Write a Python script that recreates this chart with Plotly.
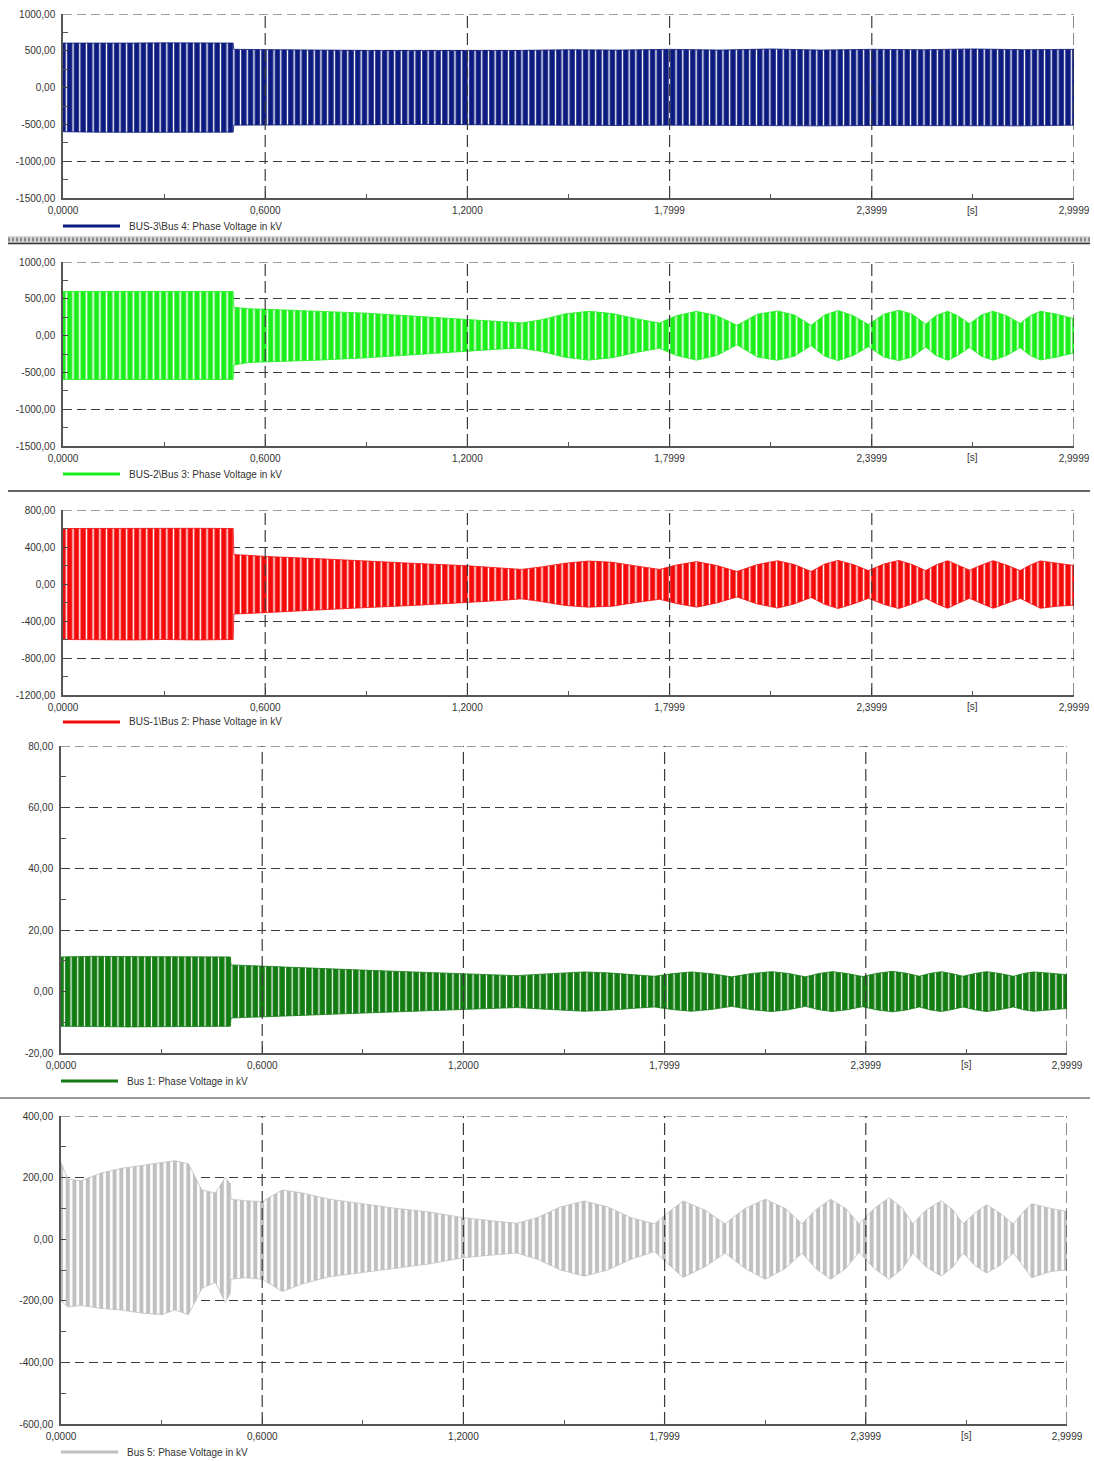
import plotly.graph_objects as go

W, H = 1094, 1461

# ---------------- data (envelopes) ----------------
x_tick_vals = [0.0, 0.6, 1.2, 1.7999, 2.3999, 2.9999]
x_tick_text = ["0,0000", "0,6000", "1,2000", "1,7999", "2,3999", "2,9999"]
x_minor_vals = [0.3, 0.9, 1.5, 2.1, 2.7]

# Panel 1: BUS-3\Bus 4
t_bus4 = [0, 0.1, 0.2, 0.3, 0.4, 0.505, 0.507, 0.6, 0.75, 0.9, 1.05, 1.2, 1.35,
          1.5, 1.65, 1.8, 1.95, 2.1, 2.25, 2.4, 2.55, 2.7, 2.85, 2.9999]
up_bus4 = [605, 610, 605, 608, 605, 605, 520, 515, 510, 505, 505, 500, 505,
           515, 510, 520, 510, 525, 510, 520, 515, 525, 515, 520]
lo_bus4 = [-600, -605, -608, -605, -608, -605, -510, -515, -505, -505, -500, -505, -505,
           -510, -515, -510, -520, -515, -520, -515, -520, -515, -520, -510]

# shared time base for the post-fault beating buses
t_beat = [0, 0.1, 0.2, 0.3, 0.4, 0.505, 0.507, 0.55, 0.6, 0.75, 0.9, 1.05, 1.2, 1.3,
          1.36, 1.42, 1.49, 1.56, 1.63, 1.70, 1.77, 1.82, 1.88, 1.94, 2.00, 2.06,
          2.12, 2.17, 2.22, 2.26, 2.30, 2.345, 2.39, 2.435, 2.48, 2.52, 2.56, 2.59,
          2.625, 2.655, 2.69, 2.725, 2.76, 2.80, 2.84, 2.87, 2.90, 2.95, 2.9999]

# Panel 2: BUS-2\Bus 3
up_bus3 = [600, 600, 600, 602, 600, 600, 385, 365, 358, 335, 305, 262, 218, 185,
           172, 215, 295, 330, 300, 230, 170, 270, 330, 270, 140, 290,
           335, 280, 140, 280, 340, 270, 150, 290, 345, 290, 155, 270,
           330, 270, 160, 280, 330, 270, 165, 270, 330, 290, 230]
lo_bus3 = [-595, -598, -600, -598, -598, -595, -400, -365, -360, -335, -302, -258, -212, -182,
           -171, -215, -295, -333, -300, -230, -172, -270, -333, -270, -125, -290,
           -335, -280, -135, -280, -340, -270, -150, -290, -340, -290, -155, -270,
           -335, -270, -160, -280, -335, -270, -165, -270, -330, -290, -235]

# Panel 3: BUS-1\Bus 2
up_bus2 = [600, 602, 600, 600, 602, 600, 318, 310, 298, 275, 252, 222, 197, 172,
           158, 185, 225, 248, 235, 195, 158, 205, 242, 200, 135, 210,
           252, 210, 135, 215, 255, 210, 145, 215, 255, 210, 145, 205,
           252, 205, 150, 205, 252, 205, 145, 205, 250, 225, 200]
lo_bus2 = [-600, -605, -605, -600, -605, -600, -325, -318, -310, -285, -255, -230, -202, -178,
           -160, -190, -232, -250, -240, -200, -165, -210, -250, -205, -140, -215,
           -260, -215, -145, -220, -265, -215, -155, -220, -265, -215, -155, -210,
           -262, -210, -155, -210, -262, -210, -155, -210, -262, -240, -230]

# Panel 4: Bus 1
up_bus1 = [11.3, 11.5, 11.4, 11.4, 11.5, 11.3, 8.7, 8.5, 8.2, 7.6, 7.0, 6.4, 5.8, 5.4,
           5.2, 5.6, 6.1, 6.4, 6.1, 5.5, 5.0, 5.8, 6.4, 5.8, 4.8, 5.9,
           6.5, 5.9, 4.8, 5.9, 6.5, 5.9, 4.9, 6.0, 6.6, 6.0, 5.0, 5.9,
           6.5, 5.9, 5.0, 5.9, 6.5, 5.9, 5.0, 5.9, 6.4, 6.0, 5.5]
lo_bus1 = [-11.3, -11.4, -11.5, -11.4, -11.4, -11.3, -8.6, -8.5, -8.2, -7.6, -7.0, -6.4, -5.8, -5.4,
           -5.2, -5.6, -6.1, -6.4, -6.1, -5.5, -5.0, -5.8, -6.4, -5.8, -4.8, -5.9,
           -6.5, -5.9, -4.8, -5.9, -6.5, -5.9, -4.9, -6.0, -6.6, -6.0, -5.0, -5.9,
           -6.5, -5.9, -5.0, -5.9, -6.5, -5.9, -5.0, -5.9, -6.4, -6.0, -5.5]

# Panel 5: Bus 5 (irregular before the switching instant)
t_bus5 = [0, 0.02, 0.06, 0.12, 0.18, 0.24, 0.30, 0.34, 0.38, 0.42, 0.46, 0.49, 0.505,
          0.507, 0.55, 0.6, 0.66, 0.72, 0.8, 0.9, 1.0, 1.1, 1.2, 1.3,
          1.36, 1.42, 1.49, 1.56, 1.63, 1.70, 1.77, 1.82, 1.855, 1.92, 1.98, 2.04,
          2.10, 2.16, 2.21, 2.25, 2.295, 2.34, 2.38, 2.425, 2.47, 2.51, 2.54, 2.58,
          2.625, 2.66, 2.69, 2.725, 2.76, 2.80, 2.84, 2.87, 2.895, 2.95, 2.9999]
up_bus5 = [250, 195, 190, 215, 230, 240, 250, 255, 245, 160, 150, 200, 180,
           130, 125, 122, 160, 150, 130, 115, 100, 88, 70, 58,
           52, 70, 105, 124, 105, 70, 50, 95, 124, 95, 50, 100,
           130, 100, 50, 95, 130, 100, 50, 100, 135, 100, 50, 95,
           125, 95, 50, 85, 112, 85, 50, 90, 115, 100, 90]
lo_bus5 = [-200, -220, -215, -225, -230, -240, -245, -230, -245, -160, -140, -205, -175,
           -130, -125, -130, -170, -145, -122, -108, -95, -80, -60, -50,
           -45, -65, -100, -120, -100, -65, -40, -90, -124, -90, -45, -95,
           -130, -95, -45, -95, -130, -95, -42, -95, -130, -95, -45, -90,
           -120, -90, -45, -85, -110, -85, -45, -90, -125, -105, -100]

series_names = ["BUS-3\\Bus 4: Phase Voltage in kV",
                "BUS-2\\Bus 3: Phase Voltage in kV",
                "BUS-1\\Bus 2: Phase Voltage in kV",
                "Bus 1: Phase Voltage in kV",
                "Bus 5: Phase Voltage in kV"]

y_ticks_1 = [-1500, -1000, -500, 0, 500, 1000]
y_text_1 = ["-1500,00", "-1000,00", "-500,00", "0,00", "500,00", "1000,00"]
y_ticks_3 = [-1200, -800, -400, 0, 400, 800]
y_text_3 = ["-1200,00", "-800,00", "-400,00", "0,00", "400,00", "800,00"]
y_ticks_4 = [-20, 0, 20, 40, 60, 80]
y_text_4 = ["-20,00", "0,00", "20,00", "40,00", "60,00", "80,00"]
y_ticks_5 = [-600, -400, -200, 0, 200, 400]
y_text_5 = ["-600,00", "-400,00", "-200,00", "0,00", "200,00", "400,00"]

# ---------------- styling / layout ----------------
panels = [
    dict(t=t_bus4, up=up_bus4, lo=lo_bus4, color="#0d1b80", gap=0.2, px=(63, 1074), py=(14, 198),
         yt=y_ticks_1, ytx=y_text_1, leg_y=226, tick_y=210),
    dict(t=t_beat, up=up_bus3, lo=lo_bus3, color="#1aef1a", gap=0.24, px=(63, 1074), py=(262, 446),
         yt=y_ticks_1, ytx=y_text_1, leg_y=474, tick_y=458),
    dict(t=t_beat, up=up_bus2, lo=lo_bus2, color="#f50a0a", gap=0.22, px=(63, 1074), py=(510, 695),
         yt=y_ticks_3, ytx=y_text_3, leg_y=722, tick_y=706),
    dict(t=t_beat, up=up_bus1, lo=lo_bus1, color="#127c12", gap=0.18, px=(61, 1067), py=(746, 1053),
         yt=y_ticks_4, ytx=y_text_4, leg_y=1081, tick_y=1064),
    dict(t=t_bus5, up=up_bus5, lo=lo_bus5, color="#c0c0c0", gap=0.4, px=(61, 1067), py=(1116, 1424),
         yt=y_ticks_5, ytx=y_text_5, leg_y=1452, tick_y=1435),
]

FONT = "Liberation Sans, Arial, sans-serif"
TXT = "#333333"
GRID = "#3c3c3c"

fig = go.Figure()
shapes = []
annotations = []
layout_axes = {}

for i, (p, name) in enumerate(zip(panels, series_names), start=1):
    xs = "" if i == 1 else str(i)
    xa, ya = "x" + xs, "y" + xs
    fig.add_trace(go.Scatter(
        x=p["t"] + p["t"][::-1],
        y=p["up"] + p["lo"][::-1],
        mode="lines", fill="toself", fillcolor=p["color"],
        fillpattern=dict(shape="|", fgcolor="white", bgcolor=p["color"],
                         size=6.7, solidity=p["gap"], fillmode="replace"),
        line=dict(color=p["color"], width=0.8),
        xaxis=xa, yaxis=ya, name=name, showlegend=False, hoverinfo="skip"))

    yt = p["yt"]
    step = yt[1] - yt[0]
    layout_axes["xaxis" + xs] = dict(
        domain=[p["px"][0] / W, p["px"][1] / W], anchor=ya, automargin=False,
        range=[0, 2.9999], tickmode="array", tickvals=x_tick_vals, ticktext=x_tick_text,
        ticks="inside", ticklen=7, tickwidth=1.2, tickcolor="#444",
        showline=True, linecolor="#555", linewidth=1.5,
        showgrid=False, zeroline=False, ticklabelstandoff=2,
        tickfont=dict(family=FONT, size=10, color=TXT),
        minor=dict(tickmode="array", tickvals=x_minor_vals, ticks="inside",
                   ticklen=4, tickcolor="#555", showgrid=False),
        fixedrange=True)
    layout_axes["yaxis" + xs] = dict(
        domain=[1 - p["py"][1] / H, 1 - p["py"][0] / H], anchor=xa, automargin=False,
        range=[yt[0], yt[-1]], tickmode="array", tickvals=yt, ticktext=p["ytx"],
        ticks="inside", ticklen=5, tickcolor="#444",
        showline=True, linecolor="#555", linewidth=1.5,
        showgrid=True, gridcolor=GRID, gridwidth=1.2, griddash="9px,5px",
        zeroline=False, ticklabelstandoff=4,
        tickfont=dict(family=FONT, size=10, color=TXT),
        minor=dict(tick0=yt[0], dtick=step / 2, ticks="inside", ticklen=5,
                   tickcolor="#555", showgrid=False),
        fixedrange=True)

    # vertical grid lines drawn above the waveform
    for xv in x_tick_vals[1:]:
        shapes.append(dict(type="line", xref=xa, yref=ya + " domain", x0=xv, x1=xv,
                           y0=0, y1=1, layer="above",
                           line=dict(color=GRID, width=1.2, dash="12px,5px")))
    # top grid line
    shapes.append(dict(type="line", xref=xa + " domain", yref=ya, x0=0, x1=1,
                       y0=yt[-1], y1=yt[-1], layer="above",
                       line=dict(color=GRID, width=1.2, dash="9px,5px")))

    # unit label on the time axis
    annotations.append(dict(x=2.7, xref=xa, y=1 - p["tick_y"] / H, yref="paper",
                            text="[s]", showarrow=False, xanchor="center", yanchor="middle",
                            font=dict(family=FONT, size=10, color=TXT)))
    # legend sample + text
    lx0 = p["px"][0]
    shapes.append(dict(type="line", xref="paper", yref="paper",
                       x0=lx0 / W, x1=(lx0 + 57) / W,
                       y0=1 - p["leg_y"] / H, y1=1 - p["leg_y"] / H,
                       line=dict(color=p["color"], width=3)))
    annotations.append(dict(x=(lx0 + 64) / W, xref="paper", y=1 - p["leg_y"] / H, yref="paper",
                            text=name, showarrow=False, xanchor="left", yanchor="middle",
                            font=dict(family=FONT, size=10, color=TXT)))

# separators between the panels
shapes.append(dict(type="rect", xref="paper", yref="paper", x0=8 / W, x1=1090 / W,
                   y0=1 - 243 / H, y1=1 - 236 / H, fillcolor="#d6d6d6", line=dict(width=0)))
shapes.append(dict(type="line", xref="paper", yref="paper", x0=8 / W, x1=1090 / W,
                   y0=1 - 239.5 / H, y1=1 - 239.5 / H,
                   line=dict(color="#8a8a8a", width=4, dash="2px,2px")))
shapes.append(dict(type="line", xref="paper", yref="paper", x0=8 / W, x1=1090 / W,
                   y0=1 - 243.5 / H, y1=1 - 243.5 / H, line=dict(color="#333", width=1.5)))
shapes.append(dict(type="line", xref="paper", yref="paper", x0=8 / W, x1=1090 / W,
                   y0=1 - 491 / H, y1=1 - 491 / H, line=dict(color="#333", width=1.5)))
shapes.append(dict(type="line", xref="paper", yref="paper", x0=0, x1=1090 / W,
                   y0=1 - 1098 / H, y1=1 - 1098 / H, line=dict(color="#777", width=1.5)))

fig.update_layout(
    width=W, height=H, autosize=False,
    margin=dict(l=0, r=0, t=0, b=0, pad=0),
    paper_bgcolor="white", plot_bgcolor="white",
    showlegend=False, shapes=shapes, annotations=annotations,
    font=dict(family=FONT, size=10, color=TXT),
    **layout_axes)

fig.write_html("out.html", config={"displayModeBar": False},
               post_script="document.body.style.margin='0';document.body.style.overflow='hidden';")
